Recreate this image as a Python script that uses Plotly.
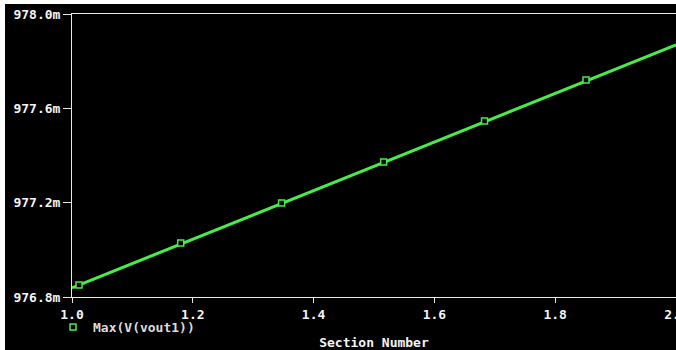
import plotly.graph_objects as go

# Data (Section Number vs Max(V(vout1)) in mV)
section = [1.0, 2.0]
vmax_mv = [976.839, 977.869]

# Probe symbol positions along the trace
marker_section = [1.0116, 1.18, 1.347, 1.516, 1.683, 1.851]
marker_vmax_mv = [976.851, 977.029, 977.199, 977.372, 977.546, 977.720]

x_ticks = [1.0, 1.2, 1.4, 1.6, 1.8, 2.0]
x_labels = ["1.0", "1.2", "1.4", "1.6", "1.8", "2.0"]
y_ticks = [976.8, 977.2, 977.6, 978.0]
y_labels = ["976.8m", "977.2m", "977.6m", "978.0m"]

GREEN = "#48ec48"
AXIS = "#e8e8e8"
FONT = dict(family="DejaVu Sans Mono", size=13, color="#f4f4f4", weight="bold")

fig = go.Figure()
fig.add_trace(go.Scatter(
    x=section, y=vmax_mv, mode="lines",
    line=dict(color=GREEN, width=3), showlegend=False, hoverinfo="skip",
))
fig.add_trace(go.Scatter(
    x=marker_section, y=marker_vmax_mv, mode="markers",
    name="Max(V(vout1))",
    marker=dict(symbol="square", size=6, color="black",
                line=dict(color=GREEN, width=1.5)),
))

W, H = 676, 350
L, R, T, B = 72, 0, 14, 53
pw, ph = W - L - R, H - T - B

def px_x(p):
    return (p - L) / pw

def px_y(p):
    return (H - B - p) / ph

fig.update_layout(
    width=W, height=H,
    margin=dict(l=L, r=R, t=T, b=B, pad=0),
    paper_bgcolor="white",
    plot_bgcolor="black",
    font=FONT,
    showlegend=True,
    legend=dict(x=px_x(53), y=px_y(327), xanchor="left", yanchor="middle",
                bgcolor="rgba(0,0,0,0)", borderwidth=0,
                font=dict(family="DejaVu Sans Mono", size=13, color="#dcdcdc", weight="bold"),
                itemwidth=30),
    shapes=[dict(type="rect", xref="paper", yref="paper",
                 x0=px_x(5), x1=px_x(W + 2), y0=px_y(H + 2), y1=px_y(4),
                 fillcolor="black", line=dict(width=0), layer="below")],
    xaxis=dict(
        range=[1.0, 2.0], tickmode="array", tickvals=x_ticks, ticktext=x_labels,
        showgrid=False, zeroline=False,
        showline=True, linecolor=AXIS, linewidth=1, mirror=True,
        ticks="outside", ticklen=5, tickcolor=AXIS, tickwidth=1,
        tickfont=FONT, automargin=False, ticklabeloverflow="allow",
        title=dict(text="Section Number", font=FONT, standoff=17),
    ),
    yaxis=dict(
        range=[976.8, 978.0], tickmode="array", tickvals=y_ticks, ticktext=y_labels,
        showgrid=False, zeroline=False,
        showline=True, linecolor=AXIS, linewidth=1,
        ticks="outside", ticklen=8, tickcolor=AXIS, tickwidth=1,
        tickfont=FONT, automargin=False, ticklabeloverflow="allow",
    ),
)

fig.write_html("out.html")
